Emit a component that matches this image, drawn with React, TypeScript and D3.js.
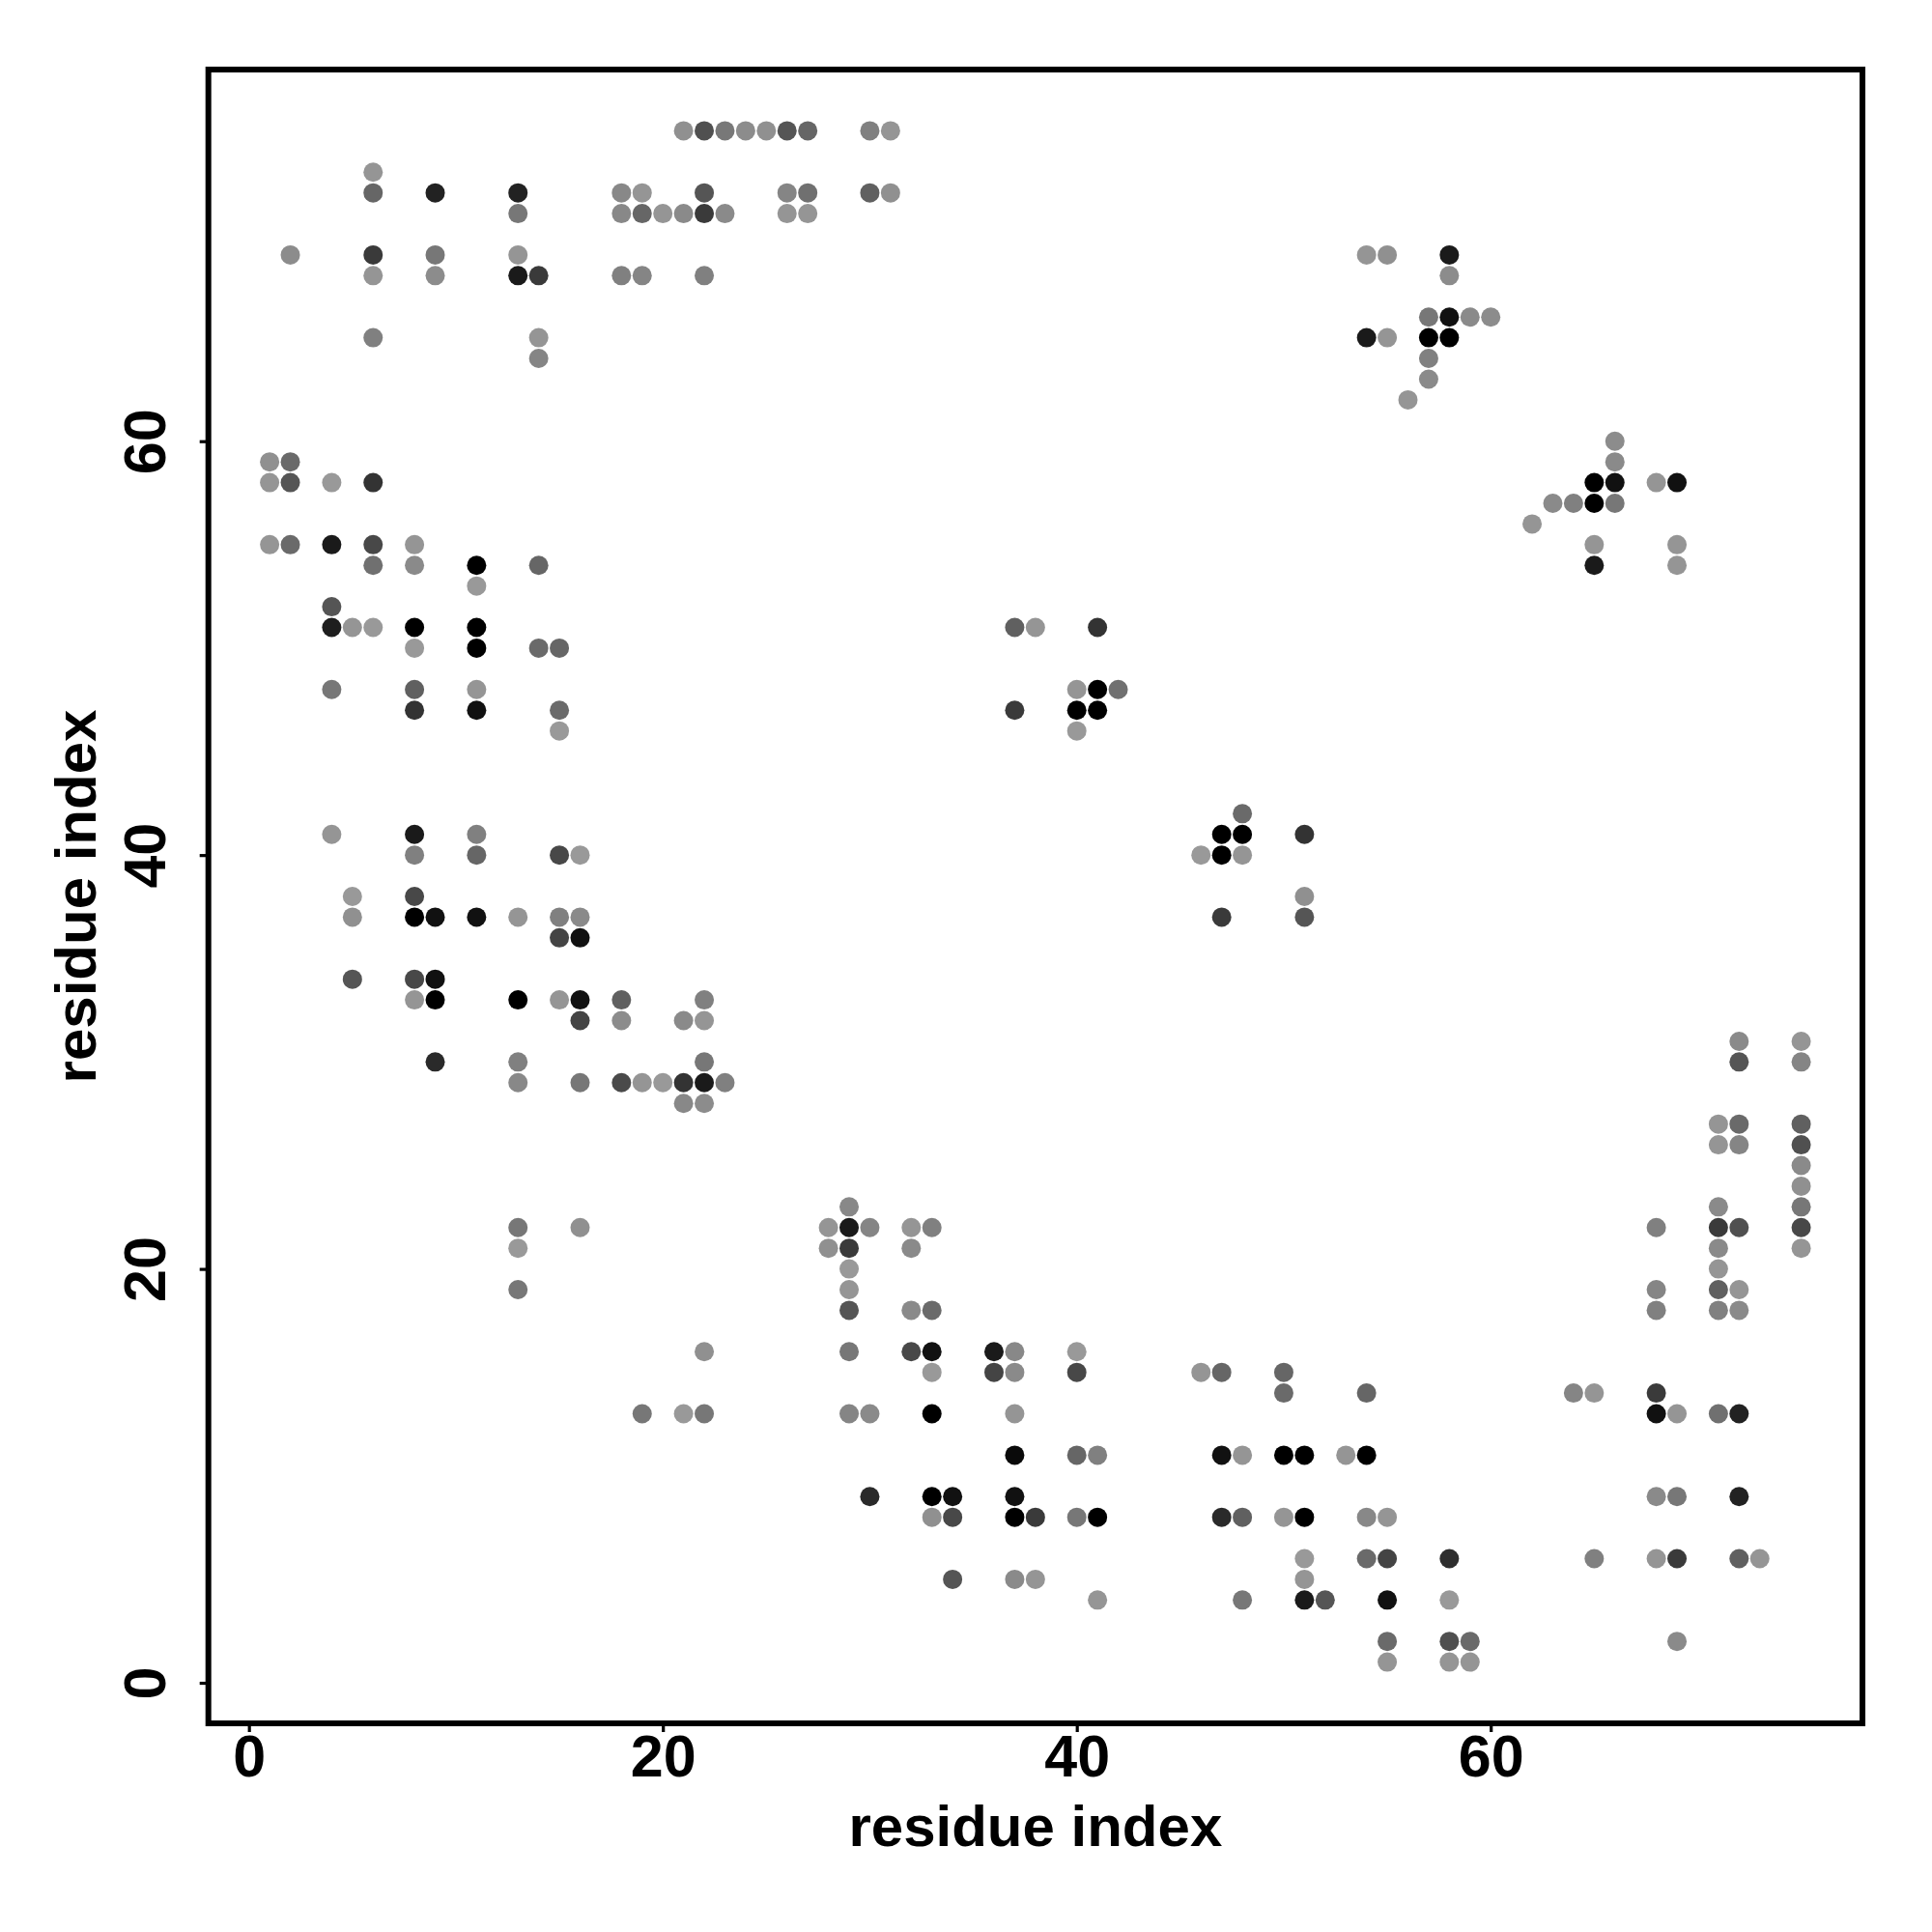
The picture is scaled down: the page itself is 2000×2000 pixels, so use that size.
import * as React from 'react';
import {useEffect, useRef} from 'react';
import * as d3 from 'd3';

const width = 2000;
const height = 2000;
const panel = {left: 215.7, right: 1928, top: 72, bottom: 1784};
const fontFamily = '"Liberation Sans", Arial, sans-serif';

const xDomain = [-1.96, 77.96];
const yDomain = [-1.96, 77.96];
const xTicks = [0, 20, 40, 60];
const yTicks = [0, 20, 40, 60];
const axisTitle = 'residue index';

// one row per y index: the columns with a contact, and their grey level
const rowIndex = [
  75, 73, 72, 71, 69, 68, 66, 65, 64, 63, 62, 60, 59, 58, 57, 56, 55, 54, 53,
  52, 51, 50, 48, 47, 46, 42, 41, 40, 38, 37, 36, 34, 33, 32, 31, 30, 29, 28,
  27, 26, 25, 24, 23, 22, 21, 20, 19, 18, 16, 15, 14, 13, 11, 9, 8, 6, 5, 4, 2, 1
];

const rowColumns = [
  [21, 22, 23, 24, 25, 26, 27, 30, 31],
  [6],
  [6, 9, 13, 18, 19, 22, 26, 27, 30, 31],
  [13, 18, 19, 20, 21, 22, 23, 26, 27],
  [2, 6, 9, 13, 54, 55, 58],
  [6, 9, 13, 14, 18, 19, 22, 58],
  [57, 58, 59, 60],
  [6, 14, 54, 55, 57, 58],
  [14, 57],
  [57],
  [56],
  [66],
  [1, 2, 66],
  [1, 2, 4, 6, 65, 66, 68, 69],
  [63, 64, 65, 66],
  [62],
  [1, 2, 4, 6, 8, 65, 69],
  [6, 8, 11, 14, 65, 69],
  [11],
  [4],
  [4, 5, 6, 8, 11, 37, 38, 41],
  [8, 11, 14, 15],
  [4, 8, 11, 40, 41, 42],
  [8, 11, 15, 37, 40, 41],
  [15, 40],
  [48],
  [4, 8, 11, 47, 48, 51],
  [8, 11, 15, 16, 46, 47, 48],
  [5, 8, 51],
  [5, 8, 9, 11, 13, 15, 16, 47, 51],
  [15, 16],
  [5, 8, 9],
  [8, 9, 13, 15, 16, 18, 22],
  [16, 18, 21, 22],
  [72, 75],
  [9, 13, 22, 72, 75],
  [13, 16, 18, 19, 20, 21, 22, 23],
  [21, 22],
  [71, 72, 75],
  [71, 72, 75],
  [75],
  [75],
  [29, 71, 75],
  [13, 16, 28, 29, 30, 32, 33, 68, 71, 72, 75],
  [13, 28, 29, 32, 71, 75],
  [29, 71],
  [13, 29, 68, 71, 72],
  [29, 32, 33, 68, 71, 72],
  [22, 29, 32, 33, 36, 37, 40],
  [33, 36, 37, 40, 46, 47, 50],
  [50, 54, 64, 65, 68],
  [19, 21, 22, 29, 30, 33, 37, 68, 69, 71, 72],
  [37, 40, 41, 47, 48, 50, 51, 53, 54],
  [30, 33, 34, 37, 68, 69, 72],
  [33, 34, 37, 38, 40, 41, 47, 48, 50, 51, 54, 55],
  [51, 54, 55, 58, 65, 68, 69, 72, 73],
  [34, 37, 38, 51],
  [41, 48, 51, 52, 55, 58],
  [55, 58, 59, 69],
  [55, 58, 59]
];

const rowGreys = [
  [0x90, 0x50, 0x78, 0x8c, 0x90, 0x55, 0x66, 0x80, 0x95],
  [0x95],
  [0x66, 0x22, 0x22, 0x88, 0x95, 0x55, 0x85, 0x70, 0x60, 0x90],
  [0x77, 0x88, 0x66, 0x95, 0x8a, 0x3a, 0x8a, 0x95, 0x95],
  [0x8c, 0x3a, 0x77, 0x95, 0x95, 0x90, 0x1a],
  [0x95, 0x8c, 0x1a, 0x3a, 0x80, 0x85, 0x80, 0x8c],
  [0x77, 0x11, 0x8a, 0x8c],
  [0x80, 0x95, 0x1a, 0x95, 0x00, 0x00],
  [0x85, 0x80],
  [0x8a],
  [0x95],
  [0x8c],
  [0x90, 0x6a, 0x8a],
  [0x95, 0x55, 0x99, 0x33, 0x00, 0x11, 0x95, 0x11],
  [0x8a, 0x80, 0x00, 0x77],
  [0x95],
  [0x95, 0x6a, 0x1a, 0x48, 0x95, 0x95, 0x95],
  [0x70, 0x8a, 0x00, 0x66, 0x1a, 0x95],
  [0x99],
  [0x55],
  [0x1e, 0x95, 0x99, 0x00, 0x00, 0x60, 0x95, 0x33],
  [0x99, 0x00, 0x6a, 0x66],
  [0x77, 0x60, 0x95, 0x95, 0x00, 0x70],
  [0x33, 0x11, 0x6a, 0x3a, 0x00, 0x00],
  [0x99, 0x99],
  [0x6a],
  [0x95, 0x1a, 0x80, 0x00, 0x00, 0x33],
  [0x80, 0x66, 0x48, 0x99, 0x99, 0x00, 0x95],
  [0x99, 0x48, 0x90],
  [0x90, 0x00, 0x11, 0x11, 0x95, 0x80, 0x8a, 0x3a, 0x55],
  [0x44, 0x11],
  [0x55, 0x48, 0x11],
  [0x95, 0x00, 0x00, 0x95, 0x11, 0x60, 0x80],
  [0x44, 0x8c, 0x8a, 0x95],
  [0x8a, 0x95],
  [0x2a, 0x80, 0x77, 0x55, 0x85],
  [0x88, 0x77, 0x4a, 0x95, 0x99, 0x33, 0x1a, 0x80],
  [0x88, 0x8c],
  [0x95, 0x6a, 0x60],
  [0x95, 0x85, 0x50],
  [0x8a],
  [0x90],
  [0x88, 0x8a, 0x77],
  [0x77, 0x90, 0x95, 0x1a, 0x85, 0x95, 0x80, 0x80, 0x3a, 0x50, 0x48],
  [0x99, 0x90, 0x3a, 0x8a, 0x8a, 0x95],
  [0x99, 0x95],
  [0x77, 0x95, 0x85, 0x60, 0x95],
  [0x55, 0x8a, 0x6a, 0x80, 0x80, 0x8a],
  [0x90, 0x77, 0x48, 0x11, 0x1a, 0x88, 0x99],
  [0x99, 0x44, 0x8a, 0x48, 0x95, 0x66, 0x66],
  [0x6a, 0x66, 0x85, 0x95, 0x3a],
  [0x77, 0x99, 0x77, 0x85, 0x8a, 0x00, 0x95, 0x11, 0x95, 0x70, 0x22],
  [0x0a, 0x66, 0x80, 0x11, 0x95, 0x00, 0x00, 0x95, 0x00],
  [0x2a, 0x00, 0x11, 0x11, 0x8a, 0x77, 0x22],
  [0x90, 0x48, 0x00, 0x3a, 0x77, 0x00, 0x2a, 0x60, 0x95, 0x00, 0x88, 0x95],
  [0x99, 0x6a, 0x44, 0x2e, 0x80, 0x95, 0x3a, 0x60, 0x95],
  [0x55, 0x8a, 0x95, 0x95],
  [0x95, 0x77, 0x1a, 0x55, 0x11, 0x99],
  [0x6a, 0x50, 0x6a, 0x8a],
  [0x95, 0x95, 0x95]
];

const contacts = rowIndex.flatMap((y, i) =>
  rowColumns[i].map((x, j) => ({x, y, grey: rowGreys[i][j]}))
);

export default function App() {
  const ref = useRef<SVGSVGElement>(null);

  useEffect(() => {
    const svg = d3.select(ref.current!);
    svg.selectAll('*').remove();

    const x = d3.scaleLinear().domain(xDomain).range([panel.left, panel.right]);
    const y = d3.scaleLinear().domain(yDomain).range([panel.bottom, panel.top]);

    svg.append('rect')
      .attr('width', width)
      .attr('height', height)
      .attr('fill', '#fff');

    svg.append('g')
      .selectAll('circle')
      .data(contacts)
      .join('circle')
      .attr('cx', d => x(d.x))
      .attr('cy', d => y(d.y))
      .attr('r', 10)
      .attr('fill', d => d3.rgb(d.grey, d.grey, d.grey).formatHex());

    const xAxis = svg.append('g')
      .attr('transform', `translate(0,${panel.bottom})`)
      .call(d3.axisBottom(x).tickValues(xTicks).tickSize(9).tickSizeOuter(0));
    xAxis.select('.domain').remove();
    xAxis.selectAll('line').attr('stroke', '#000').attr('stroke-width', 3.2);
    xAxis.selectAll('text')
      .attr('y', 1838.5 - panel.bottom)
      .attr('dy', 0)
      .attr('fill', '#000')
      .style('font', `bold 61px ${fontFamily}`);

    const yAxis = svg.append('g')
      .attr('transform', `translate(${panel.left},0)`)
      .call(d3.axisLeft(y).tickValues(yTicks).tickSize(9).tickSizeOuter(0));
    yAxis.select('.domain').remove();
    yAxis.selectAll('line').attr('stroke', '#000').attr('stroke-width', 3.2);
    yAxis.selectAll('text')
      .attr('x', 0)
      .attr('dy', 0)
      .attr('text-anchor', 'middle')
      .attr('fill', '#000')
      .attr('transform', `translate(${170.5 - panel.left},0) rotate(-90)`)
      .style('font', `bold 61px ${fontFamily}`);

    svg.append('rect')
      .attr('x', panel.left)
      .attr('y', panel.top)
      .attr('width', panel.right - panel.left)
      .attr('height', panel.bottom - panel.top)
      .attr('fill', 'none')
      .attr('stroke', '#000')
      .attr('stroke-width', 6);

    svg.append('text')
      .attr('x', (panel.left + panel.right) / 2)
      .attr('y', 1911)
      .attr('text-anchor', 'middle')
      .style('font', `bold 60px ${fontFamily}`)
      .text(axisTitle);

    svg.append('text')
      .attr('transform', `translate(99,${(panel.top + panel.bottom) / 2}) rotate(-90)`)
      .attr('text-anchor', 'middle')
      .style('font', `bold 60px ${fontFamily}`)
      .text(axisTitle);
  }, []);

  return (
    <svg
      ref={ref}
      width={width}
      height={height}
      style={{position: 'absolute', left: 0, top: 0, display: 'block'}}
    />
  );
}
